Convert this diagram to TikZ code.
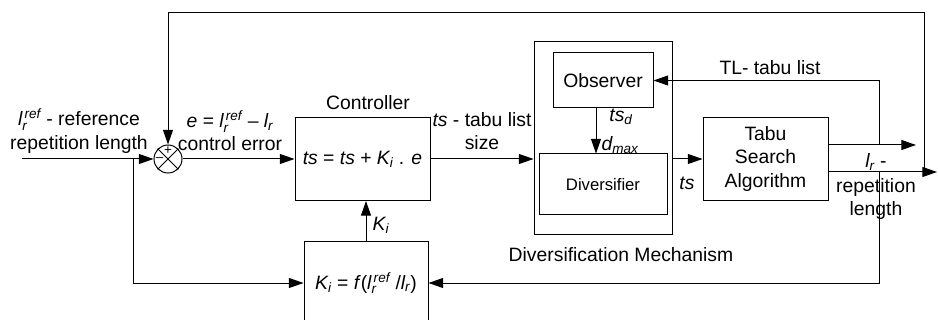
\documentclass[tikz,border=0pt]{standalone}
\usepackage{fontspec}
\setmainfont{Liberation Sans}
\usetikzlibrary{arrows.meta}

\newcommand{\lfont}{\fontsize{14.5}{17.5}\selectfont}
\newcommand{\sfnt}{\fontsize{12.5}{15}\selectfont}
\newcommand{\lrref}{$\mathit{l}_{\mathit{r}}^{\,\mathit{ref}}$}

\tikzset{
  blk/.style={draw, line width=0.75pt, inner sep=0pt, font=\lfont},
  lbl/.style={inner sep=0.75pt, align=center, font=\lfont},
  wire/.style={line width=0.75pt},
  flow/.style={line width=0.75pt, -{Triangle[length=11pt,width=7.5pt]}},
}

\begin{document}
\begin{tikzpicture}[x=0.75pt,y=0.75pt,yscale=-1,xscale=1]
\useasboundingbox (0,0) rectangle (938,320);

%Shape: Circle
\node [blk, circle, minimum size=21pt] (sum) at (168,159) {};
\draw [wire] (sum.north west) -- (sum.south east);
\draw [wire] (sum.north east) -- (sum.south west);
\node [inner sep=0pt, font=\fontsize{10}{10}\selectfont] (plus) at (168,151) {+};
\node [inner sep=0pt, font=\fontsize{10}{10}\selectfont] (minus) at (159.5,160) {–};

%Shape: Rectangle
\node [blk, minimum width=101.25pt, minimum height=62.25pt] (ctrl) at (362.5,159) {\textit{ts} = \textit{ts} + $\mathit{K}_{\mathit{i}}$ . \textit{e}};
%Shape: Rectangle
\node [blk, minimum width=93pt, minimum height=61.5pt] (kbox) at (366,283) {$\mathit{K}_{\mathit{i}}$ = \textit{f}(\lrref\ /$\mathit{l}_{\mathit{r}}$)};
%Shape: Rectangle
\node [blk, minimum width=103.5pt, minimum height=144.75pt] (div) at (603,138.5) {};
%Shape: Rectangle
\node [blk, minimum width=75pt, minimum height=41.25pt] (obs) at (603,80.5) {Observer};
%Shape: Rectangle
\node [blk, minimum width=96pt, minimum height=45.75pt, font=\sfnt] (divr) at (603,184.5) {Diversifier};
%Shape: Rectangle
\node [blk, minimum width=93.75pt, minimum height=62.25pt, align=center] (tabu) at (765.5,159) {Tabu\\Search\\Algorithm};

\coordinate (in) at (22,159);
\coordinate (br) at (133,159);
\coordinate (o1) at (916,145);
\coordinate (tl) at (879,145);
\coordinate (out) at (937,172);
\coordinate (fb) at (924,172);
\coordinate (fbtop) at (924,13);
\coordinate (lr) at (879,172);

%Straight Lines
\draw [flow] (in) -- (sum.west);
\draw [flow] (br) |- (kbox.west);
\draw [flow] (sum.east) -- (ctrl.west);
\draw [flow] (ctrl.east) -- (ctrl.east -| div.west);
\draw [flow] (kbox.north) -- (kbox.north |- ctrl.south);
\draw [flow] ([xshift=-5.25pt]obs.south) -- ([xshift=-5.25pt]obs.south |- divr.north);
\draw [flow] (tabu.west -| div.east) -- (tabu.west);
\draw [flow] (tabu.east |- o1) -- (o1);
\draw [flow] (tl) |- (obs.east);
\draw [flow] (tabu.east |- out) -- (out);
\draw [flow] (fb) -- (fbtop) -| (sum.north);
\draw [flow] (lr) |- (kbox.east);

% Text Node
\node [lbl] (reflbl) at (79,131) {\lrref\ - reference\\repetition length};
% Text Node
\node [lbl] (errlbl) at (230,131) {\textit{e} = \lrref\ – $\mathit{l}_{\mathit{r}}$\\control error};
% Text Node
\node [lbl] (ctrllbl) at (368,103) {Controller};
% Text Node
\node [lbl] (tslbl) at (482,131) {\textit{ts} - tabu list\\size};
% Text Node
\node [lbl] (kilbl) at (381,225) {$\mathit{K}_{\mathit{i}}$};
% Text Node
\node [lbl] (tsdlbl) at (621,117) {$\mathit{ts}_{\mathit{d}}$};
% Text Node
\node [lbl] (dmaxlbl) at (620,145) {$\mathit{d}_{\mathit{max}}$};
% Text Node
\node [lbl] (divlbl) at (621,255) {Diversification Mechanism};
% Text Node
\node [lbl] (tsbelow) at (687,183) {\textit{ts}};
% Text Node
\node [lbl] (tllbl) at (770,68) {TL- tabu list};
% Text Node
\node [lbl] (lrlbl) at (876,162) {$\mathit{l}_{\mathit{r}}$ -};
% Text Node
\node [lbl] (replbl) at (876,199) {repetition\\length};

\end{tikzpicture}
\end{document}
